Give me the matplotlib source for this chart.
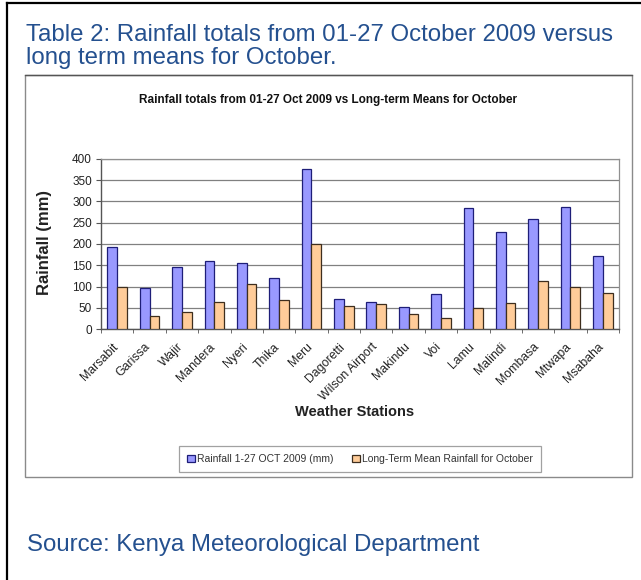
import matplotlib
matplotlib.use("Agg")
import matplotlib.pyplot as plt
from matplotlib.patches import Rectangle
from matplotlib.lines import Line2D
import matplotlib.transforms as mtransforms
import numpy as np

plt.rcParams['font.family'] = ['Liberation Sans', 'DejaVu Sans']

stations = ["Marsabit", "Garissa", "Wajir", "Mandera", "Nyeri", "Thika", "Meru",
            "Dagoretti", "Wilson Airport", "Makindu", "Voi", "Lamu", "Malindi",
            "Mombasa", "Mtwapa", "Msabaha"]
rain_oct2009 = [192, 96, 146, 159, 156, 120, 377, 70, 63, 51, 83, 284, 229, 259, 287, 172]
long_term_mean = [98, 30, 41, 63, 105, 68, 200, 55, 60, 36, 25, 49, 62, 114, 99, 84]
yticks = [0, 50, 100, 150, 200, 250, 300, 350, 400]

W, H = 641, 580
fig = plt.figure(figsize=(W / 100, H / 100), dpi=100)
fig.patch.set_facecolor('white')

def fx(px):
    return px / W

def fy(py):
    return 1 - py / H

# outer frame (top and left lines)
fig.add_artist(Line2D([fx(7), 1.0], [fy(3), fy(3)], color='black', lw=1.6))
fig.add_artist(Line2D([fx(7), fx(7)], [fy(3), 0.0], color='black', lw=1.6))

blue_text = '#24508F'
fig.text(fx(26), fy(35), "Table 2: Rainfall totals from 01-27 October 2009 versus",
         color=blue_text, fontsize=17.3, va='center', ha='left')
fig.text(fx(26), fy(58), "long term means for October.",
         color=blue_text, fontsize=17.3, va='center', ha='left')
fig.text(fx(27), fy(545), "Source: Kenya Meteorological Department",
         color=blue_text, fontsize=17.3, va='center', ha='left')

# chart area box
fig.add_artist(Rectangle((fx(25), fy(477)), fx(632) - fx(25), fy(75) - fy(477),
                         fill=False, edgecolor='#8a8a8a', lw=1.0))
fig.add_artist(Line2D([fx(25), fx(632)], [fy(75), fy(75)], color='#555555', lw=1.0))

fig.text(fx(328), fy(100), "Rainfall totals from 01-27 Oct 2009 vs Long-term Means for October",
         fontsize=8.5, fontweight='bold', ha='center', va='center', color='#111111')

ax = fig.add_axes([fx(101), fy(329), fx(619) - fx(101), fy(159) - fy(329)])
x = np.arange(len(stations))
bw = 0.3
ax.bar(x - bw / 2, rain_oct2009, width=bw, color='#9999FF', edgecolor='#1E1E78', lw=0.9,
       label="Rainfall 1-27 OCT 2009 (mm)", zorder=3)
ax.bar(x + bw / 2, long_term_mean, width=bw, color='#FFCC99', edgecolor='#3E2E1E', lw=0.9,
       label="Long-Term Mean Rainfall for October", zorder=3)

ax.set_xlim(-0.5, len(stations) - 0.5)
ax.set_ylim(0, 400)
ax.set_yticks(yticks)
ax.set_yticklabels([str(v) for v in yticks], fontsize=8.5, color='#222222')
ax.yaxis.grid(True, color='#808080', lw=0.9, zorder=0)
ax.set_axisbelow(True)

ax.set_xticks(x)
ax.set_xticklabels(stations, rotation=45, ha='right', rotation_mode='anchor', fontsize=8.8,
                   color='#222222')
ax.tick_params(axis='x', length=0, pad=8.5)
shift = mtransforms.ScaledTranslation(-5 / 100, 0, fig.dpi_scale_trans)
for lbl in ax.get_xticklabels():
    lbl.set_transform(lbl.get_transform() + shift)
ax.set_xticks(np.arange(-0.5, len(stations), 1.0), minor=True)
ax.tick_params(axis='x', which='minor', length=3, direction='out', color='#555555')
ax.tick_params(axis='y', length=3.6, direction='out', color='#555555', pad=3)

for s in ['top', 'right']:
    ax.spines[s].set_color('#909090')
    ax.spines[s].set_linewidth(0.9)
for s in ['left', 'bottom']:
    ax.spines[s].set_color('#555555')
    ax.spines[s].set_linewidth(1.0)

fig.text(fx(44), fy(242), "Rainfall (mm)", fontsize=12, fontweight='bold',
         rotation=90, ha='center', va='center', color='#222222')
fig.text(fx(355), fy(412), "Weather Stations", fontsize=10.5, fontweight='bold',
         ha='center', va='center', color='#222222')

leg = fig.legend(loc='center', bbox_to_anchor=(fx(360), fy(459)), ncol=2, fontsize=7.5,
                 frameon=True, fancybox=False, edgecolor='#8a8a8a', handlelength=0.75,
                 handleheight=0.75, handletextpad=0.2, columnspacing=1.8, borderpad=0.8)
leg.get_frame().set_linewidth(0.9)
for t in leg.get_texts():
    t.set_color('#333333')

fig.savefig("out.png", dpi=100, facecolor='white')
